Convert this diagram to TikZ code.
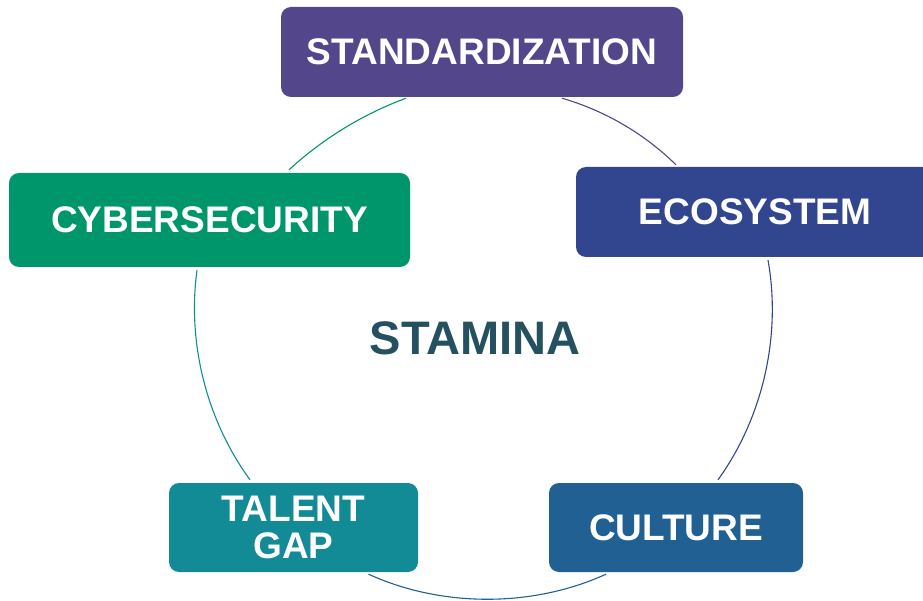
\documentclass[tikz,border=0pt]{standalone}
\usepackage{fontspec}
\setmainfont{Liberation Sans}
\usepackage{tikz}
\usetikzlibrary{calc, positioning}
\definecolor{stdcolor}{HTML}{54468A}
\definecolor{ecocolor}{HTML}{32458F}
\definecolor{cybcolor}{HTML}{00966B}
\definecolor{talcolor}{HTML}{128B96}
\definecolor{culcolor}{HTML}{206092}
\definecolor{stacolor}{HTML}{245060}
\tikzset{
    boxnode/.style = {rectangle, rounded corners=10pt, inner sep=0em, node distance=0em, 
      text=white, align=center, font=\fontsize{37}{37}\selectfont\bfseries},
    titlenode/.style = {draw=none, fill=none, rectangle, inner sep=0em, node distance=0em, 
      text=stacolor, font=\fontsize{47}{47}\selectfont\bfseries},
    ring/.style = {line width=1.1pt, bend left=#1, looseness=0.87}
}

\begin{document}
\begin{tikzpicture}[x=1pt, y=-1pt]
    \useasboundingbox (0,0) rectangle (923,601);

    \node [name=stamina, titlenode] at (475,338) {STAMINA};

    \node [name=std, boxnode, fill=stdcolor, minimum width=402pt, minimum height=90pt, 
        above of = stamina, xshift=7pt, yshift=286pt] {STANDARDIZATION};
    \node [name=eco, boxnode, fill=ecocolor, minimum width=358pt, minimum height=90pt, 
        above of = stamina, xshift=280pt, yshift=126pt] {ECOSYSTEM};
    \node [name=cyb, boxnode, fill=cybcolor, minimum width=401pt, minimum height=94pt, 
        above of = stamina, xshift=-265.5pt, yshift=118pt] {CYBERSECURITY};
    \node [name=tal, boxnode, fill=talcolor, minimum width=249pt, minimum height=89pt, 
        below of = stamina, xshift=-181.5pt, yshift=-189.5pt] {TALENT\\GAP};
    \node [name=cul, boxnode, fill=culcolor, minimum width=254pt, minimum height=89pt, 
        below of = stamina, xshift=201pt, yshift=-189.5pt] {CULTURE};

    \draw ([xshift=80pt, yshift=-1pt]std.south) edge[ring=14, draw=stdcolor] 
        ([xshift=-79pt, yshift=2pt]eco.north); 
    \draw ([xshift=13pt, yshift=-3pt]eco.south) edge[ring=23, draw=ecocolor] 
        ([xshift=42pt, yshift=3pt]cul.north); 
    \draw ([xshift=-70pt, yshift=-2pt]cul.south) edge[ring=24.5, draw=culcolor] 
        ([xshift=75pt, yshift=-2pt]tal.south); 
    \draw ([xshift=-43.5pt, yshift=3pt]tal.north) edge[ring=22, draw=talcolor] 
        ([xshift=-12.5pt, yshift=-3pt]cyb.south); 
    \draw ([xshift=79.5pt, yshift=3pt]cyb.north) edge[ring=11, draw=cybcolor] 
        ([xshift=-76pt, yshift=-1pt]std.south); 
\end{tikzpicture}
\end{document}
